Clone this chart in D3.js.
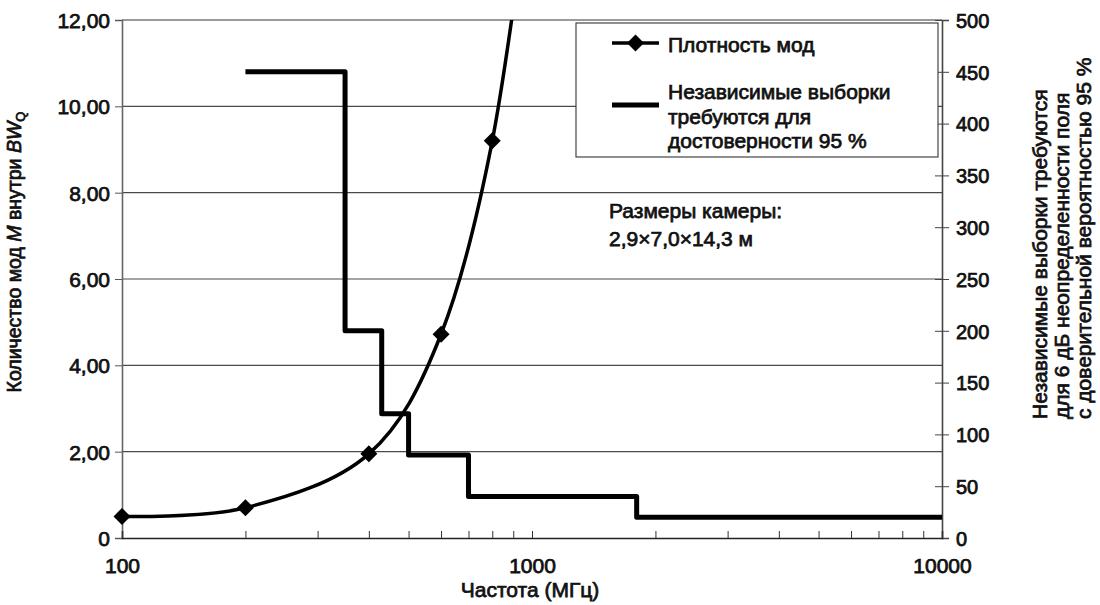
<!DOCTYPE html>
<html>
<head>
<meta charset="utf-8">
<script src="https://cdn.jsdelivr.net/npm/d3@7"></script>
<style>
  html, body { margin: 0; padding: 0; background: #fff; }
  svg { display: block; font-family: "Liberation Sans", Arial, sans-serif; }
  .txt { fill: #111; stroke: #111; stroke-width: 0.75px; }
</style>
</head>
<body>
<svg id="chart" width="1100" height="605"></svg>
<script>
// Mode density (left axis)
const modeFreq  = [100, 200, 400, 600, 800, 1000];
const modeCount = [0.5, 0.7, 1.95, 4.72, 9.2, 15.5];

// Independent samples needed (right axis), piecewise constant between edges
const stepEdges   = [200, 350, 430, 500, 700, 1800, 10000];
const stepSamples = [450, 200, 120, 80, 40, 20];

// Tick labels
const xTickLabels = [100, 1000, 10000];
const leftTicks   = [0, 2, 4, 6, 8, 10, 12];
const rightTicks  = [0, 50, 100, 150, 200, 250, 300, 350, 400, 450, 500];

const svg = d3.select("#chart");
const L = 122, R = 942, T = 20, B = 538;
const FONT = "Liberation Sans, Arial, sans-serif";

const x  = d3.scaleLog().domain([100, 10000]).range([L, R]);
const yL = d3.scaleLinear().domain([0, 12]).range([B, T]);
const yR = d3.scaleLinear().domain([0, 500]).range([B, T]);

svg.append("defs").append("clipPath").attr("id", "plotClip")
  .append("rect").attr("x", L).attr("y", T).attr("width", R - L).attr("height", B - T);

// horizontal gridlines
svg.append("g").selectAll("line").data(leftTicks.filter(d => d > 0 && d < 12)).join("line")
  .attr("x1", L).attr("x2", R).attr("y1", d => yL(d)).attr("y2", d => yL(d))
  .attr("stroke", "#4a4a4a").attr("stroke-width", 1.1);

// top border
svg.append("line").attr("x1", L).attr("x2", R).attr("y1", T).attr("y2", T)
  .attr("stroke", "#9a9a9a").attr("stroke-width", 2);

// left axis
const leftAxis = d3.axisLeft(yL).tickValues(leftTicks).tickSize(7)
  .tickFormat(d => d === 0 ? "0" : d3.format(".2f")(d).replace(".", ","));
const gl = svg.append("g").attr("transform", `translate(${L},0)`).call(leftAxis);
gl.select(".domain").attr("stroke", "#666").attr("stroke-width", 1.6);
gl.selectAll(".tick line").attr("stroke", "#555");
gl.selectAll(".tick text").attr("class", "txt").attr("x", -12).attr("dy", "0.36em")
  .attr("font-size", 21).attr("font-family", FONT);

// right axis: ticks cross the axis line
const rightAxis = d3.axisRight(yR).tickValues(rightTicks).tickSize(7).tickFormat(d3.format("d"));
const gr = svg.append("g").attr("transform", `translate(${R},0)`).call(rightAxis);
gr.select(".domain").attr("stroke", "#444").attr("stroke-width", 1.6);
gr.selectAll(".tick line").attr("x1", -7).attr("stroke", "#444");
gr.selectAll(".tick text").attr("class", "txt").attr("x", 14).attr("dy", "0.36em")
  .attr("font-size", 20).attr("font-family", FONT);

// bottom axis: minor ticks point inward
const bottomAxis = d3.axisBottom(x).tickSize(-7)
  .tickFormat(d => xTickLabels.includes(d) ? String(d) : "");
const gb = svg.append("g").attr("transform", `translate(0,${B})`).call(bottomAxis);
gb.select(".domain").attr("stroke", "#222").attr("stroke-width", 1.6);
gb.selectAll(".tick line").attr("stroke", "#333");
gb.selectAll(".tick text").attr("class", "txt").attr("y", 20).attr("dy", "0.71em")
  .attr("font-size", 21).attr("font-family", FONT);

// step series (right axis)
const stepPts = stepSamples.map((v, i) => [stepEdges[i], v]);
stepPts.push([stepEdges[stepEdges.length - 1], stepSamples[stepSamples.length - 1]]);
const stepLine = d3.line().x(d => x(d[0])).y(d => yR(d[1])).curve(d3.curveStepAfter);
svg.append("path").datum(stepPts).attr("d", stepLine)
  .attr("fill", "none").attr("stroke", "#000").attr("stroke-width", 5)
  .attr("stroke-linejoin", "round");

// mode density curve (left axis)
const modePts = modeFreq.map((f, i) => [f, modeCount[i]]);
const modeLine = d3.line().x(d => x(d[0])).y(d => yL(d[1])).curve(d3.curveCardinal.tension(0));
svg.append("path").datum(modePts).attr("d", modeLine).attr("clip-path", "url(#plotClip)")
  .attr("fill", "none").attr("stroke", "#000").attr("stroke-width", 3.5);

const diamond = r => `M0,${-r}L${r},0L0,${r}L${-r},0Z`;
svg.append("g").selectAll("path").data(modePts.filter(d => d[1] <= 12)).join("path")
  .attr("transform", d => `translate(${x(d[0])},${yL(d[1])})`)
  .attr("d", diamond(8.5)).attr("fill", "#000");

// legend
const lg = svg.append("g");
lg.append("rect").attr("x", 576).attr("y", 23).attr("width", 362).attr("height", 134)
  .attr("fill", "#fff").attr("stroke", "#333").attr("stroke-width", 1.1);
lg.append("line").attr("x1", 612).attr("x2", 659).attr("y1", 43).attr("y2", 43)
  .attr("stroke", "#000").attr("stroke-width", 3.5);
lg.append("path").attr("transform", "translate(635.5,43)").attr("d", diamond(8.5)).attr("fill", "#000");
lg.append("text").attr("class", "txt").attr("x", 668).attr("y", 52).attr("font-size", 21).text("Плотность мод");
lg.append("line").attr("x1", 612).attr("x2", 659).attr("y1", 105).attr("y2", 105)
  .attr("stroke", "#000").attr("stroke-width", 5);
["Независимые выборки", "требуются для", "достоверности 95 %"].forEach((s, i) => {
  lg.append("text").attr("class", "txt").attr("x", 668).attr("y", 99 + i * 24.5)
    .attr("font-size", 21).text(s);
});

// chamber size note
["Размеры камеры:", "2,9×7,0×14,3 м"].forEach((s, i) => {
  svg.append("text").attr("class", "txt").attr("x", 609).attr("y", 218 + i * 28)
    .attr("font-size", 21).text(s);
});

// x axis title
svg.append("text").attr("class", "txt").attr("x", 530).attr("y", 597)
  .attr("text-anchor", "middle").attr("font-size", 21).text("Частота (МГц)");

// left axis title
const lt = svg.append("text").attr("class", "txt").attr("transform", "translate(21,252) rotate(-90)")
  .attr("text-anchor", "middle").attr("font-size", 19.5);
lt.append("tspan").text("Количество мод ");
lt.append("tspan").attr("font-style", "italic").text("M");
lt.append("tspan").text(" внутри  ");
lt.append("tspan").attr("font-style", "italic").text("BW");
lt.append("tspan").attr("font-size", 13).attr("dy", 4).text("Q");

// right axis title
["Независимые выборки требуются", "для 6 дБ неопределенности поля", "с доверительной вероятностью 95 %"]
  .forEach((s, i) => {
    svg.append("text").attr("class", "txt")
      .attr("transform", `translate(${1047 + i * 22},419) rotate(-90)`)
      .attr("text-anchor", "start").attr("font-size", 21).text(s);
  });
</script>
</body>
</html>
